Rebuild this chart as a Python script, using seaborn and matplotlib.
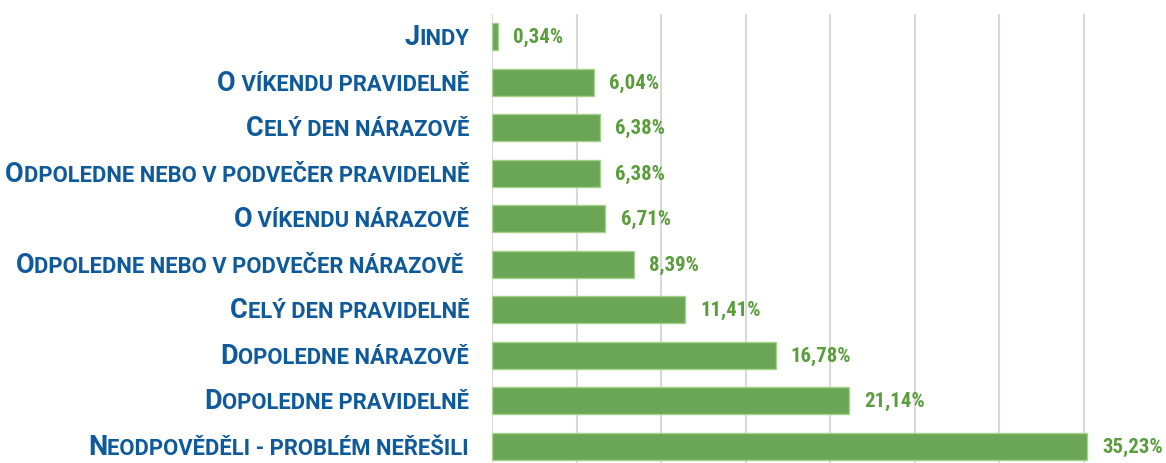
import pandas as pd
import seaborn as sns
import matplotlib.pyplot as plt
from matplotlib.offsetbox import TextArea, HPacker, AnnotationBbox

categories = [
    "Jindy",
    "O víkendu pravidelně",
    "Celý den nárazově",
    "Odpoledne nebo v podvečer pravidelně",
    "O víkendu nárazově",
    "Odpoledne nebo v podvečer nárazově ",
    "Celý den pravidelně",
    "Dopoledne nárazově",
    "Dopoledne pravidelně",
    "Neodpověděli - problém neřešili",
]
values = [0.34, 6.04, 6.38, 6.38, 6.71, 8.39, 11.41, 16.78, 21.14, 35.23]

df = pd.DataFrame({"kategorie": categories, "podil": values})

FONT_VAL = ["Roboto Condensed", "DejaVu Sans"]
FONT_LAB = ["Roboto", "DejaVu Sans"]
BLUE = "#0f5a9a"
GREEN_TXT = "#5a9e3c"

sns.set_theme(style="white")
plt.rcParams["font.family"] = FONT_VAL

fig = plt.figure(figsize=(11.66, 4.64), dpi=100)
ax = fig.add_axes([492 / 1166, 1 - 470 / 464, 676 / 1166, 455 / 464])

sns.barplot(data=df, x="podil", y="kategorie", orient="h", color="#6aa655",
            saturation=1, width=0.6, edgecolor="#a8d08d", linewidth=1, ax=ax)

ax.set_xlim(0, 40)
ax.set_xticks(range(0, 41, 5))
ax.set_xticklabels([])
ax.tick_params(axis="both", length=0)
ax.set_yticklabels([])
ax.set_xlabel("")
ax.set_ylabel("")
ax.grid(axis="x", color="#d9d9d9", linewidth=1.5)
ax.set_axisbelow(True)
for s in ax.spines.values():
    s.set_visible(False)

# hodnoty
for i, v in enumerate(values):
    ax.annotate(f"{v:.2f}%".replace(".", ","), (v, i), xytext=(11, 0),
                textcoords="offset points", va="center", ha="left",
                color=GREEN_TXT, fontsize=15, fontweight="bold", family=FONT_VAL,
                annotation_clip=False)

# popisky v kapitálkách
for i, lab in enumerate(categories):
    big = TextArea(lab[0].upper(), textprops=dict(fontsize=19.5, fontweight="bold", color=BLUE, family=FONT_LAB))
    small = TextArea(lab[1:].upper(), textprops=dict(fontsize=15.8, fontweight="bold", color=BLUE, family=FONT_LAB))
    box = HPacker(children=[big, small], align="baseline", pad=0, sep=0)
    ab = AnnotationBbox(box, (0, i), xycoords=("axes fraction", "data"),
                        xybox=(-16.5, 0), boxcoords="offset points",
                        box_alignment=(1, 0.5), frameon=False, pad=0,
                        annotation_clip=False)
    ax.add_artist(ab)

fig.savefig("out.png", dpi=100)
